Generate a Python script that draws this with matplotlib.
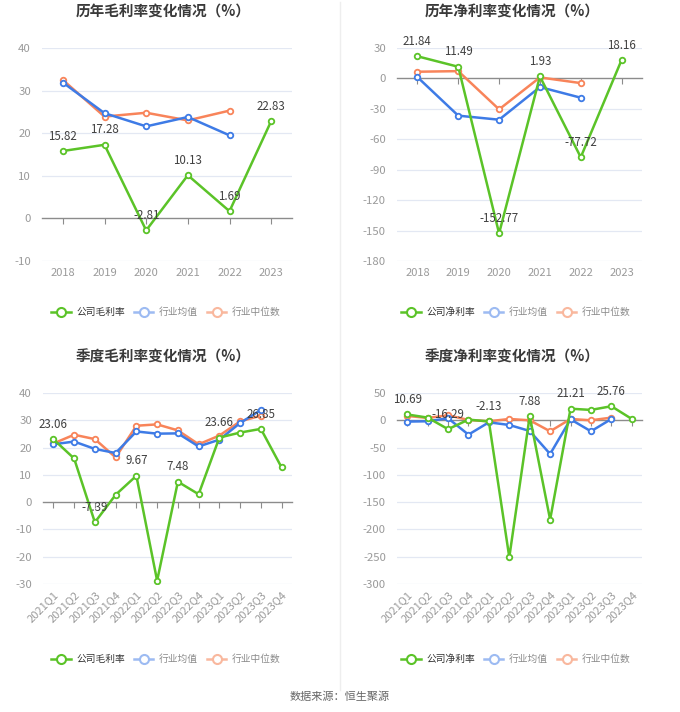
import matplotlib
matplotlib.use("Agg")
import matplotlib.pyplot as plt
from matplotlib.lines import Line2D

plt.rcParams['font.family'] = ['Noto Sans CJK SC', 'DejaVu Sans']

years = ['2018', '2019', '2020', '2021', '2022', '2023']
quarters = ['2021Q1', '2021Q2', '2021Q3', '2021Q4', '2022Q1', '2022Q2',
            '2022Q3', '2022Q4', '2023Q1', '2023Q2', '2023Q3', '2023Q4']

# annual gross margin
ann_gross_company = [15.82, 17.28, -2.81, 10.13, 1.69, 22.83]
ann_gross_avg = [31.9, 24.7, 21.6, 23.8, 19.5]
ann_gross_median = [32.5, 23.9, 24.8, 23.0, 25.3]

# annual net margin
ann_net_company = [21.84, 11.49, -152.77, 1.93, -77.72, 18.16]
ann_net_avg = [1.3, -36.7, -40.7, -8.5, -19.0]
ann_net_median = [6.6, 7.2, -30.5, 1.0, -4.6]

# quarterly gross margin
q_gross_company = [23.06, 16.0, -7.39, 2.7, 9.67, -28.8, 7.48, 2.9, 23.66, 25.5, 26.85, 12.7]
q_gross_avg = [21.2, 22.2, 19.5, 18.0, 25.9, 25.1, 25.2, 20.4, 22.9, 29.0, 33.8]
q_gross_median = [21.5, 24.7, 23.1, 16.4, 28.0, 28.5, 26.3, 21.2, 24.4, 29.6, 31.7]

# quarterly net margin
q_net_company = [10.69, 4.9, -16.29, 1.2, -2.13, -251.0, 7.88, -182.0, 21.21, 19.0, 25.76, 2.4]
q_net_avg = [-2.4, -1.8, 3.7, -26.3, -3.7, -8.6, -19.6, -61.8, 1.8, -20.2, 2.4]
q_net_median = [8.0, 4.3, 9.2, 0.6, -1.8, 2.4, 0.0, -20.2, 2.4, 0.0, 4.9]

titles = ['历年毛利率变化情况（%）', '历年净利率变化情况（%）',
          '季度毛利率变化情况（%）', '季度净利率变化情况（%）']
company_names = ['公司毛利率', '公司净利率', '公司毛利率', '公司净利率']
avg_name = '行业均值'
median_name = '行业中位数'
source_text = '数据来源：恒生聚源'

GREEN = '#5bc328'
BLUE = '#3e7be6'
ORANGE = '#f8845a'
GREEN_L = '#5bc328'
BLUE_L = '#9dbbf2'
ORANGE_L = '#f9b89e'

W, H = 680, 712
fig = plt.figure(figsize=(W / 100, H / 100), dpi=100)
fig.patch.set_facecolor('white')


def rect(x0, y0, x1, y1):
    return [x0 / W, 1 - y1 / H, (x1 - x0) / W, (y1 - y0) / H]


panels = [
    dict(r=rect(42, 48, 292, 261), cats=years, comp=ann_gross_company, avg=ann_gross_avg,
         med=ann_gross_median, ylim=(-10, 40), step=10, lab_idx=range(6), rot=0,
         title_xy=(163, 12), legend_xy=(166, 312)),
    dict(r=rect(397, 48, 642, 261), cats=years, comp=ann_net_company, avg=ann_net_avg,
         med=ann_net_median, ylim=(-180, 30), step=30, lab_idx=range(6), rot=0,
         title_xy=(512, 12), legend_xy=(516, 312)),
    dict(r=rect(43, 393, 292, 584), cats=quarters, comp=q_gross_company, avg=q_gross_avg,
         med=q_gross_median, ylim=(-30, 40), step=10, lab_idx=range(0, 12, 2), rot=45,
         title_xy=(163, 357), legend_xy=(166, 659)),
    dict(r=rect(397, 393, 642, 584), cats=quarters, comp=q_net_company, avg=q_net_avg,
         med=q_net_median, ylim=(-300, 50), step=50, lab_idx=range(0, 12, 2), rot=45,
         title_xy=(512, 357), legend_xy=(516, 659)),
]

for i, p in enumerate(panels):
    ax = fig.add_axes(p['r'])
    n = len(p['cats'])
    xs = list(range(n))
    ax.set_xlim(-0.5, n - 0.5)
    ax.set_ylim(*p['ylim'])
    yt = list(range(p['ylim'][0], p['ylim'][1] + 1, p['step']))
    ax.set_yticks(yt)
    ax.set_yticklabels([str(v) for v in yt])
    ax.tick_params(axis='y', length=0, labelsize=8.2, labelcolor='#9a9a9a', pad=8)
    for v in yt:
        if v != 0:
            ax.axhline(v, color='#e3e8f3', lw=0.9, zorder=0)
    for s in ['top', 'right', 'left']:
        ax.spines[s].set_visible(False)
    ax.spines['bottom'].set_position(('data', 0))
    ax.spines['bottom'].set_color('#8c8c8c')
    ax.spines['bottom'].set_linewidth(1.0)
    ax.set_xticks(xs)
    ax.tick_params(axis='x', direction='out', length=4, color='#8c8c8c', labelbottom=False)
    sec = ax.secondary_xaxis(0)
    sec.spines['bottom'].set_visible(False)
    sec.set_xticks(xs)
    if p['rot']:
        sec.set_xticklabels(p['cats'], rotation=45, ha='right', rotation_mode='anchor')
        sec.tick_params(length=0, labelsize=8.0, labelcolor='#9a9a9a', pad=4)
    else:
        sec.set_xticklabels(p['cats'])
        sec.tick_params(length=0, labelsize=8.0, labelcolor='#9a9a9a', pad=5)

    mk = dict(marker='o', markersize=4, markerfacecolor='white', markeredgewidth=1.3)
    ax.plot(xs[:len(p['med'])], p['med'], color=ORANGE, lw=1.8, markeredgecolor=ORANGE, zorder=3, **mk)
    ax.plot(xs[:len(p['avg'])], p['avg'], color=BLUE, lw=1.8, markeredgecolor=BLUE, zorder=4, **mk)
    ax.plot(xs, p['comp'], color=GREEN, lw=1.8, markeredgecolor=GREEN, zorder=5, **mk)
    for j in p['lab_idx']:
        ax.annotate(f"{p['comp'][j]:.2f}", (xs[j], p['comp'][j]), xytext=(0, 6),
                    textcoords='offset points', ha='center', va='bottom',
                    fontsize=8.3, color='#404040', zorder=6)

    tx, ty = p['title_xy']
    fig.text(tx / W, 1 - ty / H, titles[i], ha='center', va='center',
             fontsize=10.5, fontweight='bold', color='#3a3a3a')

    handles = [
        Line2D([], [], color=GREEN_L, lw=1.8, marker='o', markersize=6.5,
               markerfacecolor='white', markeredgecolor=GREEN_L, markeredgewidth=1.5),
        Line2D([], [], color=BLUE_L, lw=1.8, marker='o', markersize=6.5,
               markerfacecolor='white', markeredgecolor=BLUE_L, markeredgewidth=1.5),
        Line2D([], [], color=ORANGE_L, lw=1.8, marker='o', markersize=6.5,
               markerfacecolor='white', markeredgecolor=ORANGE_L, markeredgewidth=1.5),
    ]
    lx, ly = p['legend_xy']
    leg = fig.legend(handles, [company_names[i], avg_name, median_name],
                     loc='center', bbox_to_anchor=(lx / W, 1 - ly / H), ncol=3,
                     frameon=False, fontsize=7.0, handlelength=2.0, handletextpad=0.6,
                     columnspacing=0.9)
    cols = ['#333333', '#8a8a8a', '#8a8a8a']
    for t, c in zip(leg.get_texts(), cols):
        t.set_color(c)

# vertical separator
fig.add_artist(Line2D([340 / W, 340 / W], [1 - 2 / H, 1 - 690 / H], color='#eeeeee', lw=1.0))

fig.text(340 / W, 1 - 697 / H, source_text, ha='center', va='center', fontsize=8.0, color='#666666')

fig.savefig('out.png', dpi=100, facecolor='white')
